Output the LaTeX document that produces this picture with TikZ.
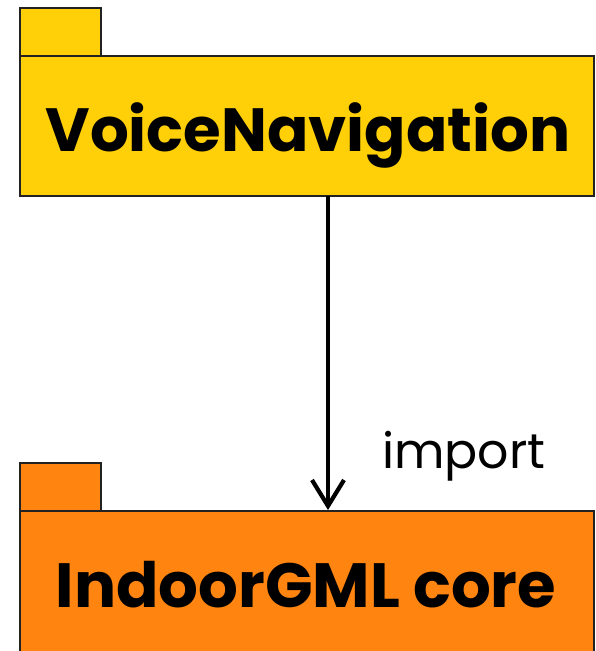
\documentclass[tikz,border=0pt]{standalone}
\usepackage{fontspec}
\setmainfont{Poppins}
\usetikzlibrary{arrows.meta}
\definecolor{pkgyellow}{HTML}{FFD008}
\definecolor{pkgorange}{HTML}{FF8510}
\definecolor{pkgborder}{HTML}{222222}
\tikzset{
  pkgbox/.style={draw=pkgborder, line width=2.6pt},
  pkgtitle/.style={font=\bfseries, inner sep=0pt, anchor=base},
  importarrow/.style={line width=4.8pt, -{Straight Barb[length=26pt,width=32pt,line width=4.2pt]}},
}
\begin{document}
\begin{tikzpicture}[x=1pt,y=-1pt]
\useasboundingbox (0,0) rectangle (596,651);
% top package
\draw[pkgbox, fill=pkgyellow] (20,8) rectangle (101,56);
\draw[pkgbox, fill=pkgyellow] (20,56) rectangle (594,196);
\node[pkgtitle, font=\fontsize{61}{61}\selectfont\bfseries] (vn) at (308,151) {VoiceNavigation};
\coordinate (vnbottom) at (328,196);
% bottom package
\draw[pkgbox, fill=pkgorange] (20,463) rectangle (101,511);
\draw[pkgbox, fill=pkgorange] (20,511) rectangle (594,670);
\node[pkgtitle, font=\fontsize{62.5}{62.5}\selectfont\bfseries] (ig) at (306,607) {IndoorGML core};
\coordinate (igtop) at (328,510);
% dependency
\draw[importarrow] (vnbottom) -- (igtop);
\node[font=\fontsize{49}{49}\selectfont, anchor=base west, inner sep=0pt] (imp) at (382,468) {import};
\end{tikzpicture}
\end{document}
